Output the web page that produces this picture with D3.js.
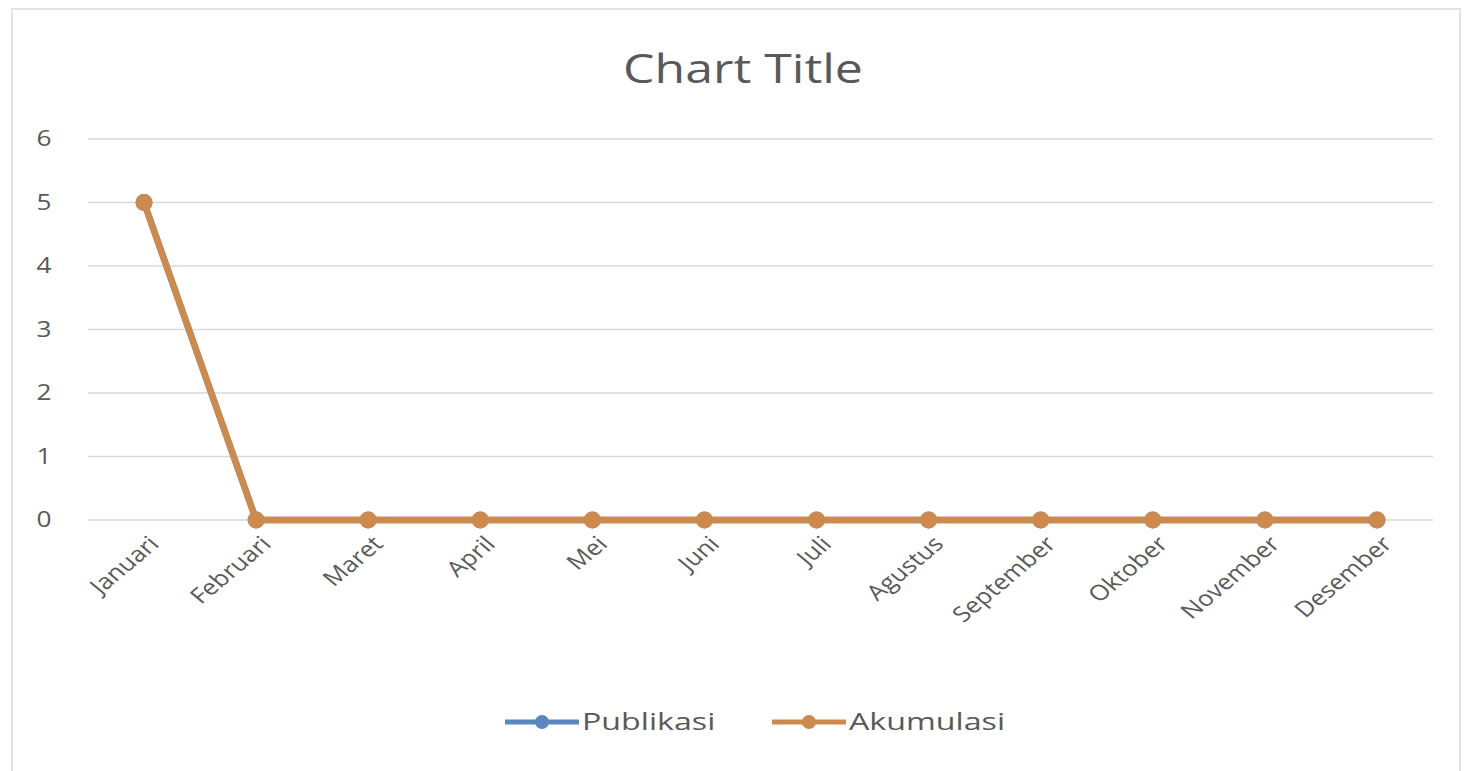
<!DOCTYPE html>
<html>
<head>
<meta charset="utf-8">
<script src="https://cdn.jsdelivr.net/npm/d3@7"></script>
<style>
  body { margin: 0; background: #fff; }
  svg { display: block; font-family: "Open Sans", "DejaVu Sans", sans-serif; }
</style>
</head>
<body>
<svg id="chart" width="1470" height="771"></svg>
<script>
const months = ["Januari", "Februari", "Maret", "April", "Mei", "Juni", "Juli", "Agustus", "September", "Oktober", "November", "Desember"];
const publikasi = [5, 0, 0, 0, 0, 0, 0, 0, 0, 0, 0, 0];
const akumulasi = [5, 0, 0, 0, 0, 0, 0, 0, 0, 0, 0, 0];
const yTicks = [0, 1, 2, 3, 4, 5, 6];

const svg = d3.select("#chart");

// frame of the chart area
svg.append("rect")
  .attr("x", 12).attr("y", 9)
  .attr("width", 1448).attr("height", 780)
  .attr("fill", "none")
  .attr("stroke", "#e3e3e3")
  .attr("stroke-width", 2);

const x = d3.scalePoint().domain(months).range([88, 1433]).padding(0.5);
const y = d3.scaleLinear().domain([0, 6]).range([520, 139]);

// gridlines
svg.append("g")
  .selectAll("line")
  .data(yTicks)
  .enter()
  .append("line")
  .attr("x1", 88).attr("x2", 1433)
  .attr("y1", (d) => y(d)).attr("y2", (d) => y(d))
  .attr("stroke", "#d9d9d9")
  .attr("stroke-width", 1.5);

// y labels (picture is a bit stretched sideways, so scale x)
svg.append("g")
  .selectAll("text")
  .data(yTicks)
  .enter()
  .append("text")
  .attr("transform", (d) => `translate(44,${y(d)}) scale(1.25,1)`)
  .attr("dy", "0.35em")
  .attr("text-anchor", "middle")
  .attr("font-size", 21)
  .attr("fill", "#595959")
  .text((d) => d);

// x labels
svg.append("g")
  .selectAll("text")
  .data(months)
  .enter()
  .append("text")
  .attr("transform", (d) => `translate(${x(d) + 10},${540}) scale(1.2,1) rotate(-45)`)
  .attr("text-anchor", "end")
  .attr("dy", "0.35em")
  .attr("font-size", 21.5)
  .attr("fill", "#595959")
  .text((d) => d);

const line = d3.line()
  .x((d, i) => x(months[i]))
  .y((d) => y(d));

function drawSeries(values, color) {
  const g = svg.append("g");
  g.append("path")
    .datum(values)
    .attr("d", line)
    .attr("fill", "none")
    .attr("stroke", color)
    .attr("stroke-width", 6.5)
    .attr("stroke-linejoin", "round");
  g.selectAll("circle")
    .data(values)
    .enter()
    .append("circle")
    .attr("cx", (d, i) => x(months[i]))
    .attr("cy", (d) => y(d))
    .attr("r", 8.5)
    .attr("fill", color);
}

drawSeries(publikasi, "#5b87c0");
drawSeries(akumulasi, "#cd8a4c");

// title
svg.append("text")
  .attr("transform", "translate(743,83) scale(1.25,1)")
  .attr("text-anchor", "middle")
  .attr("font-size", 40)
  .attr("fill", "#595959")
  .text("Chart Title");

// legend
const legend = [
  { name: "Publikasi", color: "#5b87c0", x: 505 },
  { name: "Akumulasi", color: "#cd8a4c", x: 772 },
];
const lg = svg.append("g").selectAll("g").data(legend).enter().append("g")
  .attr("transform", (d) => `translate(${d.x},722)`);
lg.append("line")
  .attr("x1", 0).attr("x2", 74)
  .attr("stroke", (d) => d.color)
  .attr("stroke-width", 5);
lg.append("circle")
  .attr("cx", 37).attr("r", 7)
  .attr("fill", (d) => d.color);
lg.append("text")
  .attr("transform", "translate(77,0) scale(1.4,1)")
  .attr("dy", "0.35em")
  .attr("font-size", 23)
  .attr("fill", "#595959")
  .text((d) => d.name);
</script>
</body>
</html>
